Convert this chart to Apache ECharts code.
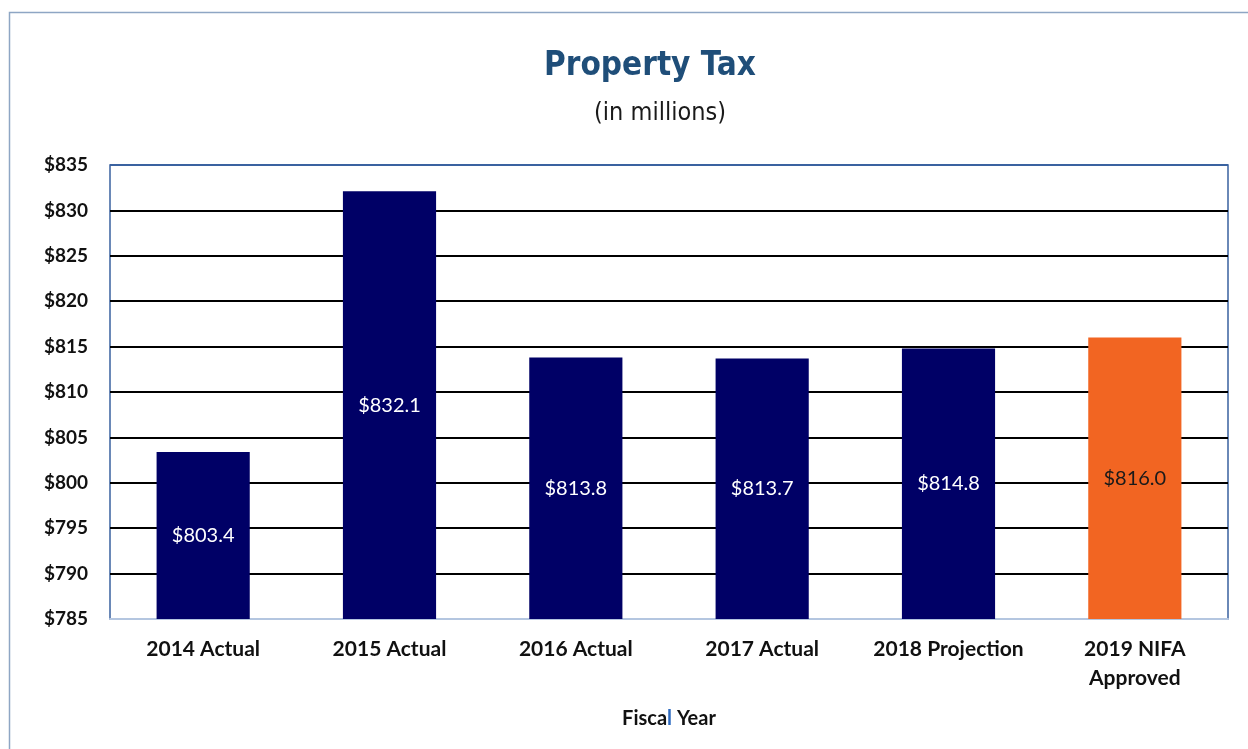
<!DOCTYPE html>
<html>
<head>
<meta charset="utf-8">
<script src="https://cdn.jsdelivr.net/npm/echarts@6/dist/echarts.min.js"></script>
<style>
  html, body { margin: 0; padding: 0; background: #ffffff; }
  #chart { width: 1248px; height: 749px; }
</style>
</head>
<body>
<div id="chart"></div>
<script>
// Fiscal years shown along the x axis
const categories = ['2014 Actual', '2015 Actual', '2016 Actual', '2017 Actual', '2018 Projection', '2019 NIFA\nApproved'];
// Property tax revenue, $ millions
const values = [803.4, 832.1, 813.8, 813.7, 814.8, 816.0];
// Which bar is the approved budget (highlighted)
const highlighted = [false, false, false, false, false, true];
// Value axis range
const yMin = 785;
const yMax = 835;
const yStep = 5;

const NAVY = '#000066';
const ORANGE = '#F26522';
const FRAME = '#3A62A0';
const labelFont = 'Lato, "Open Sans", "Liberation Sans", sans-serif';
const titleFont = '"DejaVu Sans Condensed", "DejaVu Sans", sans-serif';

// Grid lines: black inside, the bottom one under the axis, the top one matching the frame
const lineCount = Math.round((yMax - yMin) / yStep) + 1;
const splitColors = [];
for (let i = 0; i < lineCount; i++) {
  splitColors.push(i === 0 ? '#B4C6E0' : (i === lineCount - 1 ? FRAME : '#000000'));
}

const chart = echarts.init(document.getElementById('chart'));

const data = values.map((v, i) => ({
  value: v,
  itemStyle: { color: highlighted[i] ? ORANGE : NAVY },
  label: { color: highlighted[i] ? '#1a1a1a' : '#ffffff' }
}));

chart.setOption({
  animation: false,
  backgroundColor: '#ffffff',
  graphic: [{
    type: 'rect',
    left: 7, top: 10,
    shape: { width: 1260, height: 760 },
    style: { fill: 'none', stroke: '#8EA6C4', lineWidth: 1.5 },
    silent: true,
    z: 0
  }, {
    type: 'text',
    x: 650, y: 66,
    style: {
      text: 'Property Tax',
      align: 'center',
      verticalAlign: 'middle',
      font: 'bold 33px ' + titleFont,
      fill: '#1F4E79'
    }
  }, {
    type: 'text',
    x: 660, y: 113,
    style: {
      text: '(in millions)',
      align: 'center',
      verticalAlign: 'middle',
      font: '25px ' + titleFont,
      fill: '#1a1a1a'
    }
  }],
  grid: {
    left: 110, right: 20, top: 165, bottom: 130,
    show: true,
    borderColor: FRAME,
    borderWidth: 1.5,
    backgroundColor: 'transparent'
  },
  xAxis: {
    type: 'category',
    data: categories,
    name: 'Fisca{b|l} Year',
    nameLocation: 'middle',
    nameGap: 90,
    nameTextStyle: {
      fontFamily: labelFont,
      fontWeight: 'bold',
      fontSize: 20,
      color: '#111111',
      rich: {
        b: { fontFamily: labelFont, fontWeight: 'bold', fontSize: 20, color: '#2E6BC0' }
      }
    },
    axisLine: { show: true, lineStyle: { color: '#B4C6E0', width: 2 } },
    axisTick: { show: false },
    axisLabel: {
      interval: 0,
      hideOverlap: false,
      margin: 16,
      fontFamily: labelFont,
      fontWeight: 'bold',
      fontSize: 21,
      lineHeight: 29,
      color: '#111111'
    }
  },
  yAxis: {
    type: 'value',
    min: yMin,
    max: yMax,
    interval: yStep,
    axisLine: { show: false },
    axisTick: { show: false },
    splitLine: {
      show: true,
      lineStyle: { color: splitColors, width: 2 }
    },
    axisLabel: {
      margin: 22,
      fontFamily: labelFont,
      fontWeight: 'bold',
      fontSize: 19,
      color: '#111111',
      formatter: v => '$' + v
    }
  },
  series: [{
    type: 'bar',
    data: data,
    barWidth: '50%',
    z: 3,
    label: {
      show: true,
      position: 'inside',
      fontFamily: labelFont,
      fontSize: 20,
      formatter: p => '$' + p.value.toFixed(1)
    }
  }]
});
</script>
</body>
</html>
